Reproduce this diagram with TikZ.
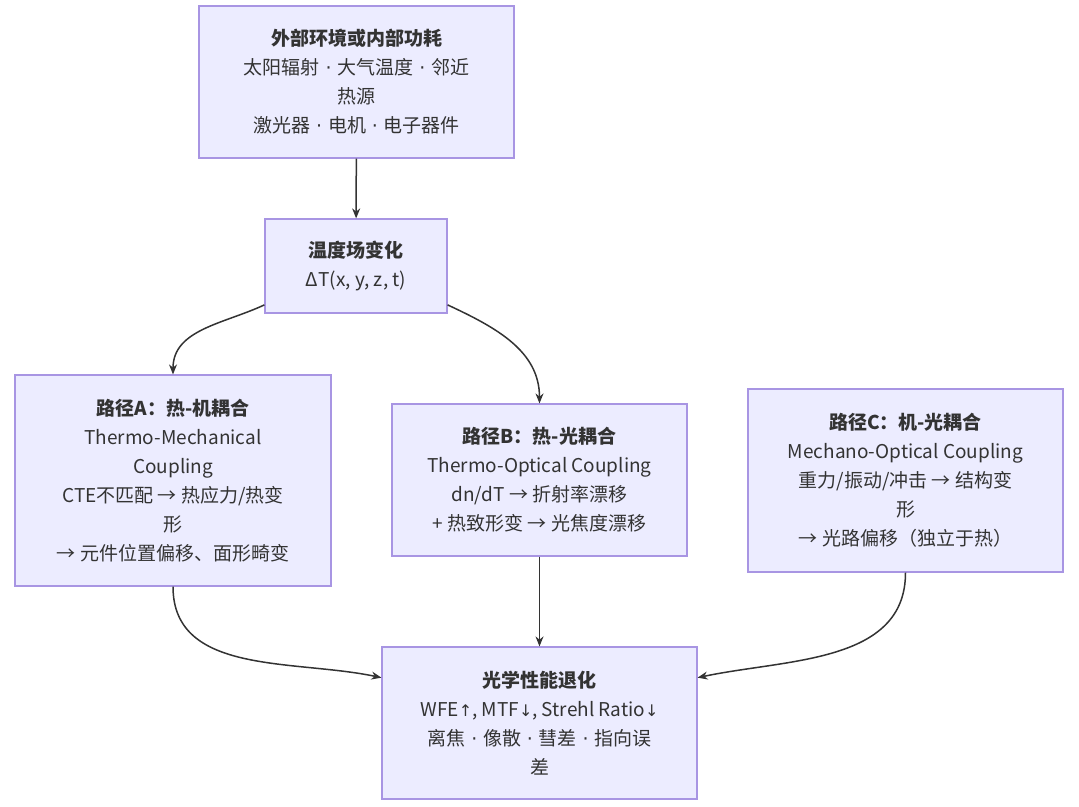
\documentclass[tikz,border=0pt]{standalone}
\usepackage{fontspec}
\setmainfont{Noto Sans CJK SC}
\newfontfamily\symfont{DejaVu Sans}
\usetikzlibrary{arrows.meta, positioning}
\definecolor{boxfill}{HTML}{ECECFF}
\definecolor{boxline}{HTML}{A895E3}
\definecolor{ink}{HTML}{333333}
\newcommand{\mdot}{\hspace{1.5pt}{\symfont\fontsize{19}{29}\selectfont ·}\hspace{1.5pt}}
\newcommand{\uparr}{{\symfont\fontsize{16}{29}\selectfont ↑}}
\newcommand{\dnarr}{{\symfont\fontsize{16}{29}\selectfont ↓}}

\begin{document}
\begin{tikzpicture}[x=1pt, y=-1pt,
    stage/.style={draw=boxline, line width=1.2pt, fill=boxfill, text=ink, align=center,
        font=\fontsize{19}{29}\selectfont, inner sep=0pt},
    flow/.style={-{Stealth[length=10pt, width=8pt]}, line width=1.5pt, draw=ink}]
        \useasboundingbox (0,0) rectangle (1079,806);

        % sources and temperature field
        \node[stage, minimum width=315, minimum height=152] (src) at (356.5,82)
            {\textbf{外部环境或内部功耗}\\太阳辐射 \mdot{} 大气温度 \mdot{} 邻近\\热源\\激光器 \mdot{} 电机 \mdot{} 电子器件};
        \node[stage, minimum width=182, minimum height=94] (temp) at (356,266)
            {\textbf{温度场变化}\\ΔT(x, y, z, t)};

        % coupling paths
        \node[stage, minimum width=316, minimum height=211] (pa) at (173,480.5)
            {\textbf{路径A：热-机耦合}\\Thermo-Mechanical\\Coupling\\CTE不匹配 → 热应力/热变\\形\\→ 元件位置偏移、面形畸变};
        \node[stage, minimum width=295, minimum height=152] (pb) at (539.5,480)
            {\textbf{路径B：热-光耦合}\\Thermo-Optical Coupling\\dn/dT → 折射率漂移\\+ 热致形变 → 光焦度漂移};
        \node[stage, minimum width=315, minimum height=183] (pc) at (905.5,480.5)
            {\textbf{路径C：机-光耦合}\\Mechano-Optical Coupling\\重力/振动/冲击 → 结构变\\形\\→ 光路偏移（独立于热）};

        % result
        \node[stage, minimum width=315, minimum height=152] (perf) at (539.5,723)
            {\textbf{光学性能退化}\\WFE\uparr, MTF\dnarr, Strehl Ratio\dnarr\\离焦 \mdot{} 像散 \mdot{} 彗差 \mdot{} 指向误\\差};

        \draw[flow] (src) -- (temp);
        \draw[flow] (temp.203) to[out=205, in=90] (pa.north);
        \draw[flow] (temp.-23) to[out=-25, in=90] (pb.north);
        \draw[flow] (pa.south) to[out=-90, in=168] (perf.164);
        \draw[flow] (pb) -- (perf);
        \draw[flow] (pc.south) to[out=-90, in=12] (perf.16);
    \end{tikzpicture}
\end{document}
